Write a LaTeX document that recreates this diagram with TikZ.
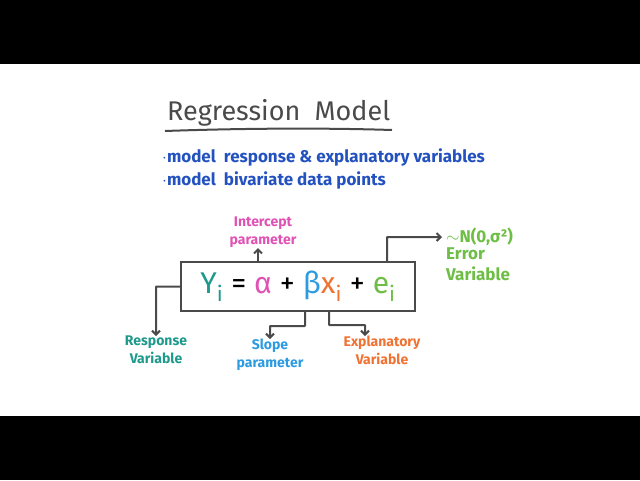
\documentclass[tikz,border=0pt]{standalone}
\usepackage{fontspec}
\setmainfont{Fira Sans}
\usetikzlibrary{arrows.meta}
\definecolor{inkgray}{HTML}{4A4A4A}
\definecolor{cteal}{HTML}{1E9A8C}
\definecolor{cpink}{HTML}{E052B4}
\definecolor{cblue}{HTML}{2C9BE0}
\definecolor{corange}{HTML}{F07233}
\definecolor{cgreen}{HTML}{6EBE45}
\definecolor{cnavy}{HTML}{2352C0}
\tikzset{
  arr/.style={draw=inkgray, line width=2pt, -{Straight Barb[length=4pt,width=8pt]}, rounded corners=0.5pt},
  lbl/.style={align=center, inner sep=0pt, font=\fontsize{14}{18}\selectfont\bfseries},
}
\begin{document}
\begin{tikzpicture}[x=1pt,y=-1pt]
\useasboundingbox (0,0) rectangle (640,480);
\fill[white] (0,0) rectangle (640,480);
\fill[black] (0,0) rectangle (640,64);
\fill[black] (0,416) rectangle (640,480);

% title
\node[anchor=south west, inner sep=0pt, text=inkgray, font=\fontsize{27}{30}\selectfont] (title) at (167,126) {Regression\ \ Model};
\draw[inkgray, line width=2pt] (165,131) .. controls (250,128) and (330,128) .. (392,130);

% bullets
\node[anchor=west, inner sep=0pt, text=cnavy, font=\fontsize{17}{20}\selectfont\bfseries] (b1) at (162,157) {$\cdot$model\ \ response \& explanatory variables};
\node[anchor=west, inner sep=0pt, text=cnavy, font=\fontsize{17}{20}\selectfont\bfseries] (b2) at (162,180) {$\cdot$model\ \ bivariate data points};

% main box
\node[draw=inkgray, line width=2pt, minimum width=234pt, minimum height=49pt, inner sep=0pt,
      font=\fontsize{30}{32}\selectfont] (box) at (298,286.5)
  {{\color{cteal}Y\textsubscript{i}} = {\color{cpink}α} + {\color{cblue}β}{\color{corange}x\textsubscript{i}} + {\color{cgreen}e\textsubscript{i}}};

% labels
\node[lbl, text=cteal, anchor=north] (resp) at (156,336) {Response\\Variable};
\node[lbl, text=cpink, anchor=south] (inter) at (263,248) {Intercept\\parameter};
\node[lbl, text=cblue, anchor=north] (slope) at (270,339) {Slope\\parameter};
\node[lbl, text=corange, anchor=north] (expl) at (382,336) {Explanatory\\Variable};
\node[lbl, text=cgreen, anchor=west, font=\fontsize{17}{17}\selectfont\bfseries] (dist) at (446,237) {$\sim$N(0,σ²)};
\node[lbl, text=cgreen, anchor=north west, align=left, font=\fontsize{17}{21}\selectfont\bfseries] (err) at (446,248) {Error\\Variable};

% connectors
\draw[arr] (box.west) -| (resp.north);
\draw[arr] ([xshift=-40pt]box.north) -- ([xshift=-5pt]inter.south);
\draw[arr] ([xshift=7pt]box.south) -- ++(0,14) -| (slope.north);
\draw[arr] ([xshift=31pt]box.south) -- ++(0,13) -| ([xshift=-17pt]expl.north);
\draw[arr] ([xshift=89pt]box.north) |- ([xshift=-4pt]dist.west);
\end{tikzpicture}
\end{document}
